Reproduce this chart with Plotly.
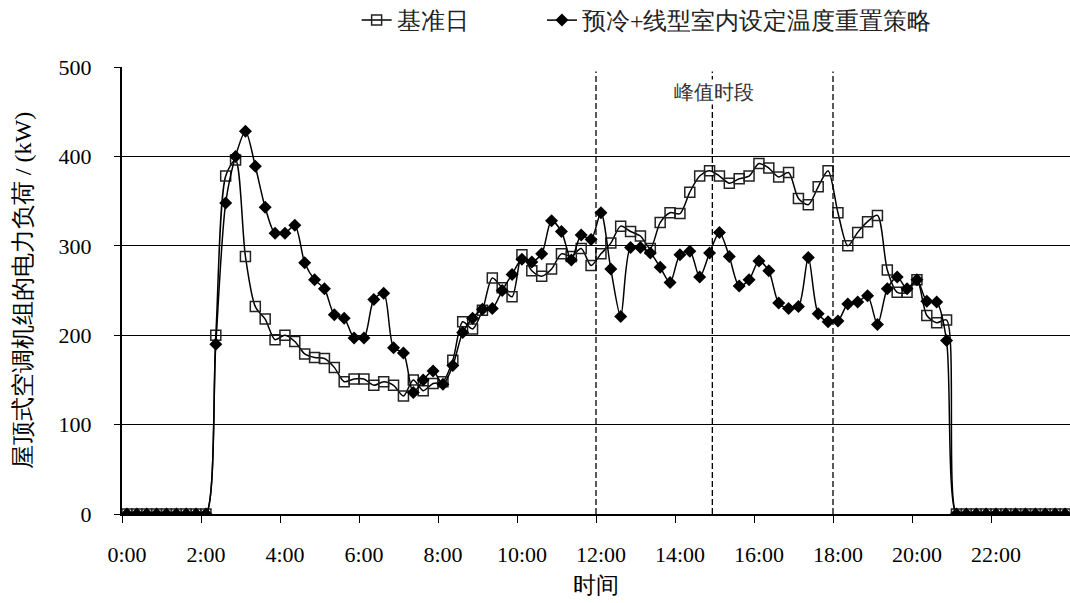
import plotly.graph_objects as go

# 15-minute intervals over one day (96 points)
slot_minutes = 15
n_slots = 96
times = [f"{(i * slot_minutes) // 60}:{(i * slot_minutes) % 60:02d}" for i in range(n_slots)]
hours = [i * slot_minutes / 60 for i in range(n_slots)]

baseline = ([0] * 9 +
            [200, 378, 396, 288, 232, 218, 195, 200, 193, 179, 175, 174, 164, 148, 151,
             151, 144, 148, 144, 132, 150, 138, 146, 148, 172, 215, 207, 228, 264, 253,
             243, 290, 272, 266, 274, 291, 288, 297, 278, 291, 303, 322, 316, 311, 297,
             326, 337, 336, 360, 378, 384, 378, 370, 375, 378, 392, 387, 377, 382, 353,
             346, 366, 384, 337, 300, 315, 327, 334, 273, 248, 248, 262, 222, 214, 217] +
            [0] * 12)

strategy = ([0] * 9 +
            [190, 348, 400, 428, 389, 343, 314, 314, 323, 281, 262, 252, 223, 219, 197,
             197, 240, 247, 186, 180, 136, 150, 160, 145, 166, 203, 219, 229, 230, 250,
             268, 285, 282, 291, 328, 316, 284, 312, 307, 337, 274, 221, 298, 298, 292,
             276, 259, 290, 294, 265, 292, 315, 288, 255, 262, 283, 272, 236, 230, 232,
             287, 224, 215, 216, 235, 237, 244, 212, 252, 265, 252, 262, 238, 237, 194] +
            [0] * 12)

series_names = ["基准日", "预冷+线型室内设定温度重置策略"]
x_tick_hours = list(range(0, 24, 2))
x_tick_labels = [f"{h}:00" for h in x_tick_hours]
y_ticks = [0, 100, 200, 300, 400, 500]
peak_lines = [11.875, 14.82, 17.875]
peak_label = "峰值时段"

half = slot_minutes / 60 / 2
FONT = "Times New Roman, Liberation Serif, DejaVu Serif, serif"

fig = go.Figure()
fig.add_trace(go.Scatter(
    x=hours, y=baseline, name=series_names[0], text=times, legend="legend",
    mode="lines+markers",
    line=dict(color="black", width=1.5, shape="spline", smoothing=0.8),
    marker=dict(symbol="square-open", size=10, color="#222222", line=dict(width=1.5)),
))
fig.add_trace(go.Scatter(
    x=hours, y=strategy, name=series_names[1], text=times, legend="legend2",
    mode="lines+markers",
    line=dict(color="black", width=1.5, shape="spline", smoothing=0.8),
    marker=dict(symbol="diamond", size=10, color="black"),
))

for xv in peak_lines:
    fig.add_shape(type="line", xref="x", yref="y", x0=xv, x1=xv, y0=0, y1=495,
                  line=dict(color="black", width=1.3, dash="6px,3px"))

fig.add_annotation(x=peak_lines[1], y=472, xref="x", yref="y", text=peak_label,
                   showarrow=False, bgcolor="white", xshift=2,
                   font=dict(family=FONT, size=20, color="#333333"))

legend_common = dict(orientation="h", xanchor="left", y=1.104, yanchor="middle",
                     font=dict(family=FONT, size=24, color="#222222"),
                     bgcolor="rgba(0,0,0,0)")

fig.update_layout(
    width=1070, height=603,
    margin=dict(l=122, r=0, t=67, b=89, autoexpand=False),
    paper_bgcolor="white", plot_bgcolor="white",
    font=dict(family=FONT, size=22, color="black"),
    showlegend=True,
    hovermode=False,
    legend=dict(x=0.2475, **legend_common),
    legend2=dict(x=0.443, **legend_common),
)

fig.update_xaxes(
    range=[-half, 24 - half], tickvals=x_tick_hours, ticktext=x_tick_labels,
    ticks="", showgrid=False, zeroline=False, automargin=False,
    showline=True, linecolor="black", linewidth=1.5,
    minor=dict(ticks="outside", ticklen=7, tickcolor="black", tickwidth=1.2,
               tick0=-half, dtick=2, showgrid=False),
    tickfont=dict(family=FONT, size=22),
    ticklabelstandoff=20,
    title=dict(text="时间", font=dict(family=FONT, size=23), standoff=11),
)
fig.update_yaxes(
    range=[0, 500], tickvals=y_ticks, automargin=False,
    ticks="outside", ticklen=6, tickcolor="black", tickwidth=1.2,
    showgrid=True, gridcolor="black", gridwidth=1.2, zeroline=False,
    showline=True, linecolor="black", linewidth=2,
    tickfont=dict(family=FONT, size=22),
    ticklabelstandoff=18,
    title=dict(text="屋顶式空调机组的电力负荷 / (kW)", font=dict(family=FONT, size=24), standoff=20),
)

fig.write_html("out.html", config={"displayModeBar": False},
               post_script="document.body.style.margin='0';")
